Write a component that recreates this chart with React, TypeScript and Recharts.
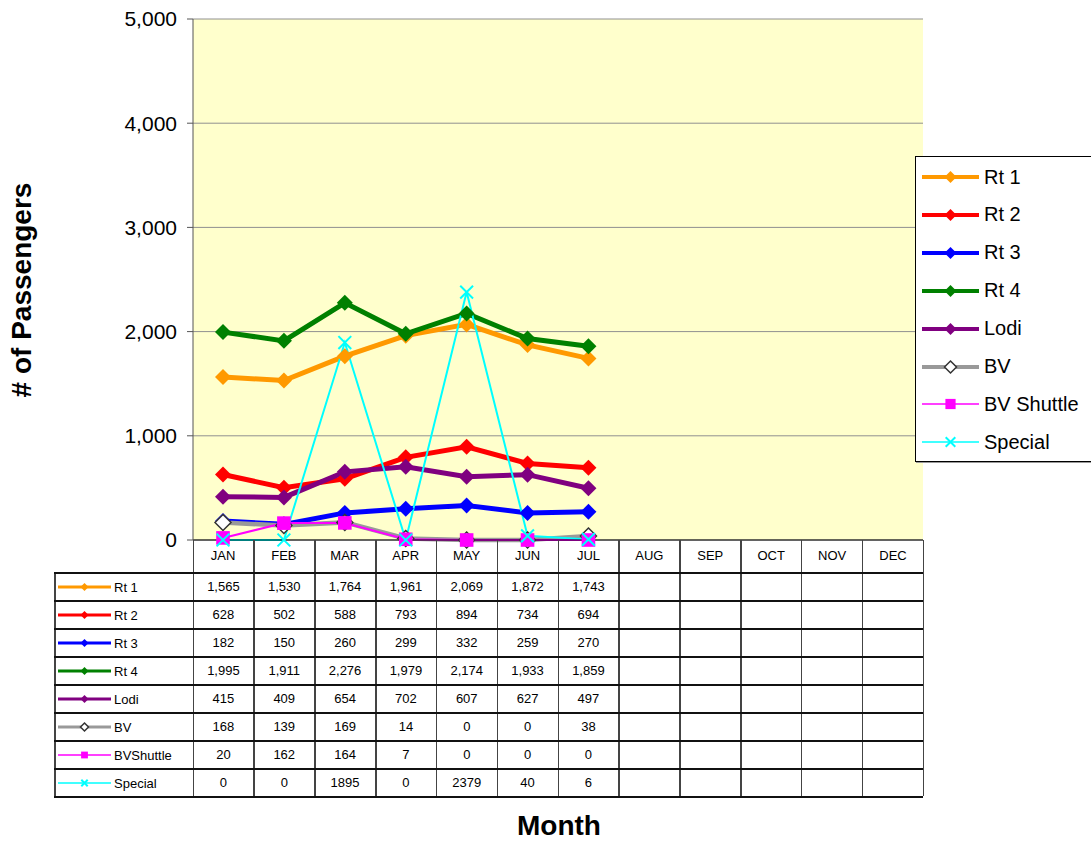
import { LineChart, Line, XAxis, YAxis, CartesianGrid } from "recharts";

const months = ["JAN", "FEB", "MAR", "APR", "MAY", "JUN", "JUL", "AUG", "SEP", "OCT", "NOV", "DEC"];
const rt1 = [1565, 1530, 1764, 1961, 2069, 1872, 1743];
const rt2 = [628, 502, 588, 793, 894, 734, 694];
const rt3 = [182, 150, 260, 299, 332, 259, 270];
const rt4 = [1995, 1911, 2276, 1979, 2174, 1933, 1859];
const lodi = [415, 409, 654, 702, 607, 627, 497];
const bv = [168, 139, 169, 14, 0, 0, 38];
const bvShuttle = [20, 162, 164, 7, 0, 0, 0];
const special = [0, 0, 1895, 0, 2379, 40, 6];
const yTicks = [0, 1000, 2000, 3000, 4000, 5000];

const FONT = '"Liberation Sans", Arial, sans-serif';

type Kind = "diamond" | "hollow" | "square" | "x";

const series = [
  { key: "rt1", name: "Rt 1", rowName: "Rt 1", values: rt1, color: "#FF9900", width: 5, kind: "diamond" as Kind },
  { key: "rt2", name: "Rt 2", rowName: "Rt 2", values: rt2, color: "#FF0000", width: 5, kind: "diamond" as Kind },
  { key: "rt3", name: "Rt 3", rowName: "Rt 3", values: rt3, color: "#0000FF", width: 5, kind: "diamond" as Kind },
  { key: "rt4", name: "Rt 4", rowName: "Rt 4", values: rt4, color: "#008000", width: 5, kind: "diamond" as Kind },
  { key: "lodi", name: "Lodi", rowName: "Lodi", values: lodi, color: "#800080", width: 5, kind: "diamond" as Kind },
  { key: "bv", name: "BV", rowName: "BV", values: bv, color: "#999999", width: 4.5, kind: "hollow" as Kind },
  { key: "bvs", name: "BV Shuttle", rowName: "BVShuttle", values: bvShuttle, color: "#FF00FF", width: 2, kind: "square" as Kind },
  { key: "special", name: "Special", rowName: "Special", values: special, color: "#00FFFF", width: 2, kind: "x" as Kind },
];

const data = months.map((m, i) => {
  const row: any = { month: m };
  series.forEach((s) => {
    row[s.key] = i < s.values.length ? s.values[i] : null;
  });
  return row;
});

const Marker = ({ kind, cx, cy, color, r }: any) => {
  if (cx == null || cy == null || isNaN(cy)) return null;
  if (kind === "diamond")
    return <polygon points={`${cx},${cy - r} ${cx + r},${cy} ${cx},${cy + r} ${cx - r},${cy}`} fill={color} />;
  if (kind === "hollow")
    return (
      <polygon
        points={`${cx},${cy - r} ${cx + r},${cy} ${cx},${cy + r} ${cx - r},${cy}`}
        fill="#fff"
        stroke="#333"
        strokeWidth={1.5}
      />
    );
  if (kind === "square") {
    const h = r * 0.85;
    return <rect x={cx - h} y={cy - h} width={h * 2} height={h * 2} fill={color} />;
  }
  const h = r * 0.8;
  return (
    <path
      d={`M${cx - h},${cy - h}L${cx + h},${cy + h}M${cx - h},${cy + h}L${cx + h},${cy - h}`}
      stroke={color}
      strokeWidth={2}
    />
  );
};

const Swatch = ({ s, w, lw, r }: any) => (
  <svg width={w} height={r * 2 + 4} style={{ display: "block" }}>
    <line x1={0} x2={w} y1={r + 2} y2={r + 2} stroke={s.color} strokeWidth={lw(s)} />
    <Marker kind={s.kind} cx={w / 2} cy={r + 2} color={s.color} r={r} />
  </svg>
);

const PLOT_L = 193;
const PLOT_R = 923;
const COL_W = (PLOT_R - PLOT_L) / 12;
const TABLE_TOP = 572;
const ROW_H = 28;

const fmt = (s: any, v: number) => (s.key === "special" ? String(v) : v.toLocaleString("en-US"));

const App = () => {
  const tableBottom = TABLE_TOP + ROW_H * series.length;
  return (
    <div
      style={{
        position: "absolute",
        left: 0,
        top: 0,
        width: 1091,
        height: 842,
        overflow: "hidden",
        background: "#fff",
        fontFamily: FONT,
      }}
    >
      <LineChart width={1091} height={842} data={data} margin={{ top: 19, right: 168, bottom: 272, left: 133 }}>
        <CartesianGrid vertical={false} stroke="#909090" fill="#FFFFCC" fillOpacity={1} />
        <XAxis
          dataKey="month"
          padding={{ left: 30, right: 30 }}
          height={30}
          interval={0}
          tickLine={false}
          tickSize={0}
          tickMargin={11}
          axisLine={{ stroke: "#000" }}
          tick={{ fontSize: 13, fill: "#000", fontFamily: FONT }}
        />
        <YAxis
          width={60}
          domain={[0, 5000]}
          ticks={yTicks}
          interval={0}
          tickSize={6}
          tickMargin={10}
          axisLine={{ stroke: "#555" }}
          tickLine={{ stroke: "#555" }}
          tickFormatter={(v: number) => v.toLocaleString("en-US")}
          tick={{ fontSize: 21, fill: "#000", fontFamily: FONT }}
        />
        {series.map((s) => (
          <Line
            key={s.key}
            dataKey={s.key}
            name={s.name}
            type="linear"
            stroke={s.color}
            strokeWidth={s.width}
            isAnimationActive={false}
            dot={(p: any) => (
              <Marker key={`${s.key}-${p.index}`} kind={s.kind} cx={p.cx} cy={p.cy} color={s.color} r={s.kind === "x" ? 8 : 8} />
            )}
            activeDot={false}
          />
        ))}
      </LineChart>

      {/* data table */}
      {Array.from({ length: 13 }, (_, i) => (
        <div
          key={`v${i}`}
          style={{
            position: "absolute",
            left: PLOT_L + i * COL_W - 0.5,
            top: 540,
            width: 1.5,
            height: tableBottom - 540,
            background: "#444",
          }}
        />
      ))}
      <div style={{ position: "absolute", left: 54, top: TABLE_TOP, width: 1.5, height: tableBottom - TABLE_TOP, background: "#444" }} />
      {Array.from({ length: series.length + 1 }, (_, i) => (
        <div
          key={`h${i}`}
          style={{ position: "absolute", left: 54, top: TABLE_TOP + i * ROW_H, width: PLOT_R - 54, height: 1.5, background: "#111" }}
        />
      ))}
      {series.map((s, r) => (
        <div key={`row${s.key}`}>
          <div
            style={{
              position: "absolute",
              left: 58,
              top: TABLE_TOP + r * ROW_H + 1,
              height: ROW_H,
              display: "flex",
              alignItems: "center",
              fontSize: 13,
            }}
          >
            <Swatch s={s} w={53} r={4} lw={(x: any) => (x.width > 3 ? 3 : 1.5)} />
            <span style={{ marginLeft: 3 }}>{s.rowName}</span>
          </div>
          {s.values.map((v, c) => (
            <div
              key={c}
              style={{
                position: "absolute",
                left: PLOT_L + c * COL_W,
                top: TABLE_TOP + r * ROW_H,
                width: COL_W,
                height: ROW_H,
                display: "flex",
                alignItems: "center",
                justifyContent: "center",
                fontSize: 13,
              }}
            >
              {fmt(s, v)}
            </div>
          ))}
        </div>
      ))}

      {/* legend */}
      <div
        style={{
          position: "absolute",
          left: 915,
          top: 156,
          width: 190,
          height: 304,
          border: "1px solid #000",
          background: "#fff",
          boxShadow: "1px 1px 0 #999",
        }}
      >
        {series.map((s, i) => (
          <div
            key={s.key}
            style={{
              position: "absolute",
              left: 6,
              top: 20 + i * 37.9 - 15,
              height: 30,
              display: "flex",
              alignItems: "center",
              fontSize: 20,
            }}
          >
            <Swatch s={s} w={57} r={6} lw={(x: any) => (x.width > 3 ? 4 : 1.5)} />
            <span style={{ marginLeft: 5 }}>{s.name}</span>
          </div>
        ))}
      </div>

      {/* axis titles */}
      <div
        style={{
          position: "absolute",
          left: 22,
          top: 290,
          transform: "translate(-50%, -50%) rotate(-90deg)",
          fontSize: 28,
          fontWeight: "bold",
          whiteSpace: "nowrap",
        }}
      >
        # of Passengers
      </div>
      <div
        style={{
          position: "absolute",
          left: 559,
          top: 826,
          transform: "translate(-50%, -50%)",
          fontSize: 28,
          fontWeight: "bold",
          whiteSpace: "nowrap",
        }}
      >
        Month
      </div>
    </div>
  );
};

export default App;
